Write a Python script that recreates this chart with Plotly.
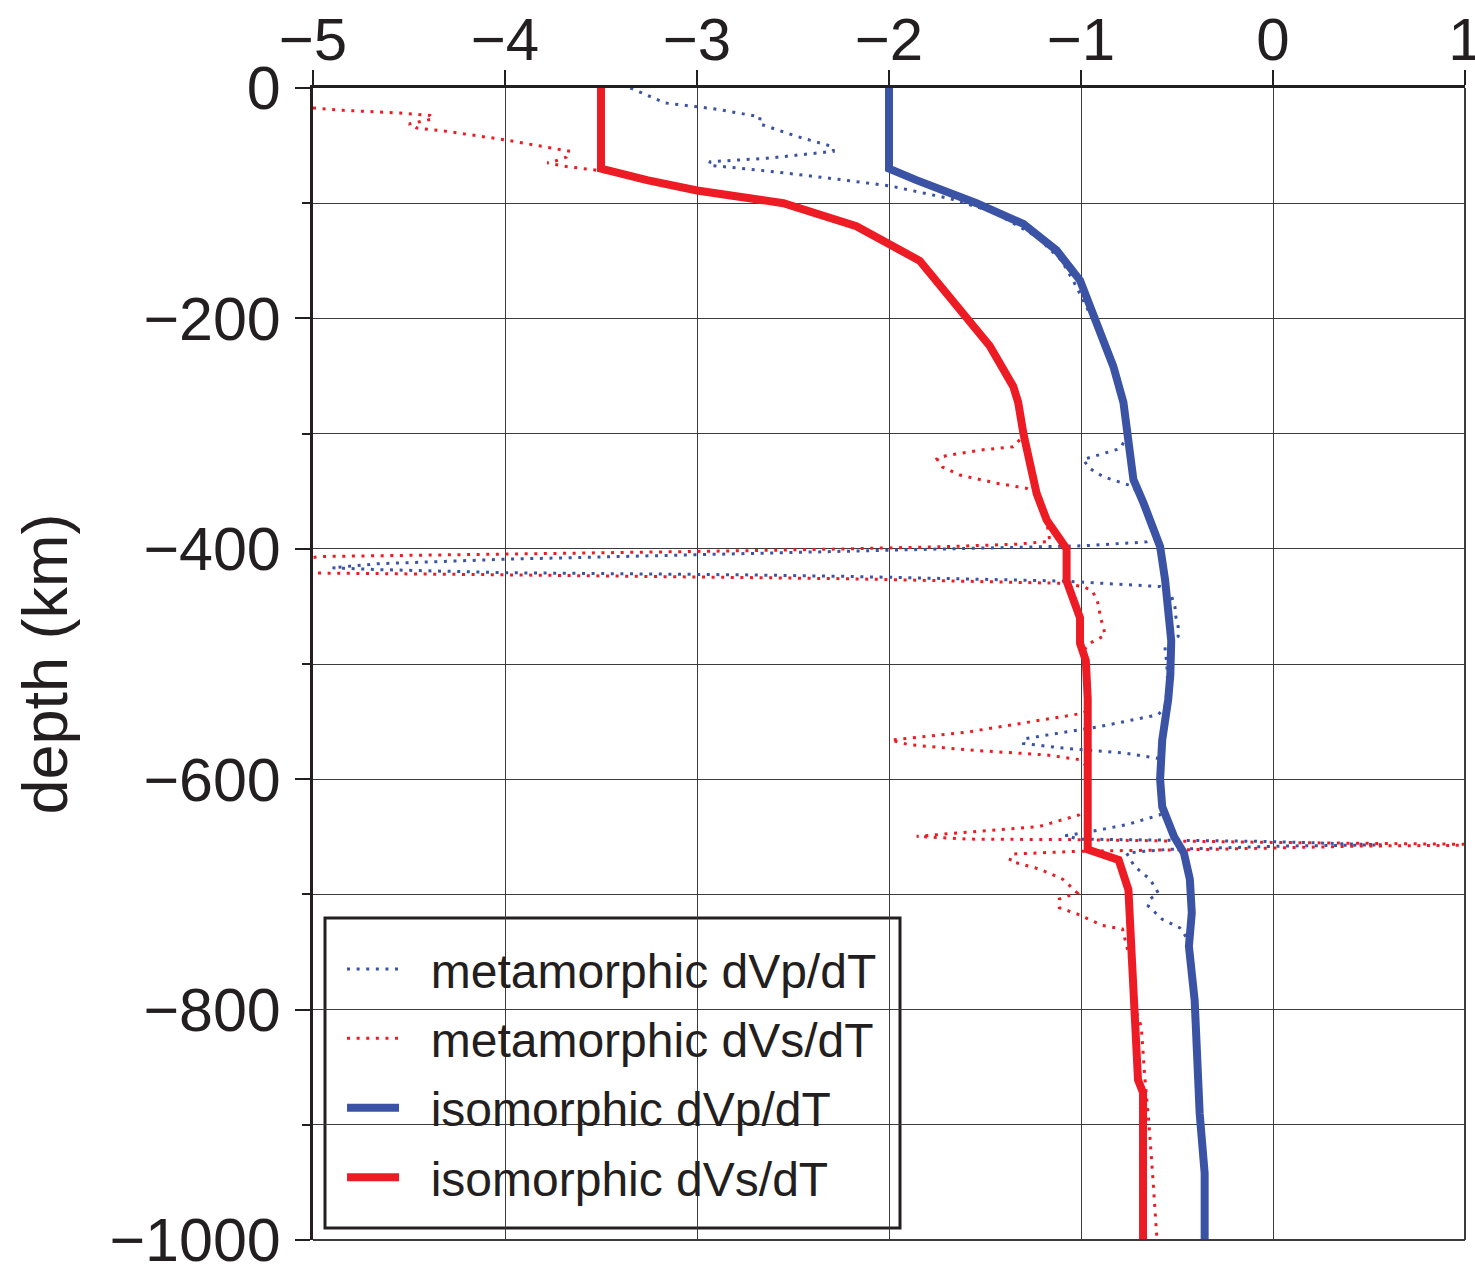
import plotly.graph_objects as go

# Temperature derivatives of seismic velocity versus depth

# isomorphic dVs/dT
iso_vs_dvdt = [-3.5, -3.5, -3.26, -3.0, -2.55, -2.17, -1.84, -1.60, -1.475, -1.353, -1.327,
               -1.30, -1.266, -1.231, -1.179, -1.092, -1.075, -1.075, -1.049, -1.005, -1.005,
               -0.975, -0.965, -0.965, -0.965, -0.804, -0.753, -0.735, -0.72, -0.703, -0.677, -0.677]
iso_vs_depth = [0, -70, -80, -89, -100, -120, -150, -199, -224, -259, -273,
                -300, -329, -352, -375, -395, -400, -428, -441, -460, -482,
                -497, -530, -600, -661, -670, -696, -756, -800, -861, -872, -1000]

# isomorphic dVp/dT
iso_vp_dvdt = [-2.0, -2.0, -1.857, -1.544, -1.30, -1.127, -1.005, -0.918, -0.831, -0.779, -0.762,
               -0.744, -0.727, -0.675, -0.641, -0.588, -0.562, -0.54, -0.53, -0.535, -0.546,
               -0.577, -0.588, -0.577, -0.515, -0.464, -0.433, -0.423, -0.438, -0.408, -0.382,
               -0.356, -0.356]
iso_vp_depth = [0, -70, -80, -100, -118, -141, -167, -204, -242, -273, -300,
                -314, -340, -360, -375, -398, -427, -456, -480, -510, -531,
                -566, -600, -624, -650, -664, -687, -716, -745, -792, -890,
                -942, -1000]

# metamorphic dVp/dT
meta_vp_dvdt = [-3.347, -3.165, -2.913, -2.671, -2.676, -2.48, -2.29, -2.29, -2.636, -2.931,
                -2.939, -2.636, -2.324, -1.995, -1.683, -1.45, -1.231, -1.10, -1.022, -0.93,
                -0.84, -0.775, -0.75, -0.797, -0.988, -0.957, -0.883, -0.779, -0.727, -0.675,
                -0.625, -0.595, -0.657, -0.988, -1.683, -2.205, -2.757, -3.99, -4.667, -4.90,
                -4.667, -3.99, -2.757, -2.205, -1.092, -0.589, -0.537, -0.511, -0.506, -0.494,
                -0.494, -0.563, -0.553, -0.545, -0.575, -0.598, -0.907, -1.113, -1.30, -1.30,
                -1.093, -0.763, -0.598, -0.585, -0.575, -0.588, -0.763, -0.99, -1.082, -1.01,
                -0.041, 0.567, 0.062, -0.557, -0.763, -0.722, -0.64, -0.598, -0.64, -0.65,
                -0.577, -0.485, -0.44, -0.405, -0.378, -0.352, -0.352]
meta_vp_depth = [0, -13, -18, -25, -31, -42, -51, -55, -61, -64,
                 -67, -72, -78, -85, -96, -108, -129, -150, -173, -204,
                 -242, -271, -300, -313, -322.5, -330, -337.5, -343, -346, -362,
                 -380, -390, -394, -397.4, -400, -402, -404.6, -409, -413, -416.5,
                 -418, -420.8, -422.6, -424, -428, -432.8, -437, -450, -459, -467.5,
                 -476, -485, -500, -531, -540, -544, -554.5, -560, -565, -569,
                 -573, -577.5, -582, -600, -620, -631, -639.5, -646.7, -649, -652,
                 -654, -657, -658, -661, -664, -675.5, -687, -698.6, -704, -710,
                 -721.6, -729, -740, -792, -890, -942, -1000]

# metamorphic dVs/dT
meta_vs_dvdt = [-5.05, -4.993, -4.84, -4.545, -4.39, -4.375, -4.42, -4.50, -4.458, -4.30,
                -4.0, -3.712, -3.66, -3.68, -3.73, -3.78, -3.69, -3.54, -3.26, -3.0,
                -2.55, -2.17, -1.84, -1.60, -1.475, -1.353, -1.32, -1.29, -1.353, -1.51,
                -1.70, -1.75, -1.722, -1.631, -1.44, -1.283, -1.23, -1.18, -1.162, -1.336,
                -1.683, -2.205, -2.757, -3.99, -4.96, -5.3, -5.0, -3.99, -2.74, -2.205,
                -1.092, -0.988, -0.945, -0.919, -0.905, -0.901, -0.884, -0.875, -0.919, -0.962,
                -0.99, -0.97, -0.955, -0.96, -1.0, -1.299, -1.588, -1.99, -1.897, -1.588,
                -1.175, -1.01, -0.96, -0.96, -1.01, -1.216, -1.526, -1.856, -1.588, -1.01,
                -0.041, 0.99, 1.3, 0.474, -0.35, -1.01, -1.36, -1.371, -1.216, -1.093,
                -1.02, -1.113, -1.113, -1.02, -0.887, -0.784, -0.74, -0.715, -0.686, -0.668,
                -0.646, -0.625, -0.604]
meta_vs_depth = [-17, -17.4, -19.4, -21.7, -23.8, -26.7, -28.4, -31.3, -34.8, -37.7,
                 -45, -53, -55, -60, -63, -65, -68, -71, -79, -88,
                 -99, -119, -149, -198, -223, -258, -275, -300, -311.5, -314,
                 -319, -322, -329, -336, -343, -347.5, -352, -375, -393.7, -396,
                 -398, -400, -401.7, -404.6, -406.7, -414, -421, -422.6, -425, -426,
                 -430, -432.8, -436, -443, -451.6, -459, -467, -475, -479, -482.6,
                 -490, -500, -530, -540, -543, -551, -559, -566, -570, -574.6,
                 -579, -583, -590, -625, -631, -641, -645, -649.6, -652, -652.5,
                 -654.8, -656, -657, -658, -661, -662.5, -665, -671, -678, -687,
                 -698.6, -704, -711.5, -717, -727, -730, -760, -800, -815, -858,
                 -899, -948, -1000]

# axis ticks
x_ticks = [-5, -4, -3, -2, -1, 0, 1]
x_tick_labels = ["\u22125", "\u22124", "\u22123", "\u22122", "\u22121", "0", "1"]
y_ticks = [0, -200, -400, -600, -800, -1000]
y_tick_labels = ["0", "\u2212200", "\u2212400", "\u2212600", "\u2212800", "\u22121000"]
y_minor_ticks = [-100, -300, -500, -700, -900]

BLUE = "#3A53A4"
RED = "#ED1C24"
INK = "#231F20"
GRID = "#3C3C3C"
FONT = "Liberation Sans, Arial, Helvetica, sans-serif"
DOT = "3px,6.6px"
PAD = "\u00a0\u00a0"  # gap between legend sample and label

fig = go.Figure()
fig.add_trace(go.Scatter(x=meta_vp_dvdt, y=meta_vp_depth, mode="lines",
                         name=PAD + "metamorphic dVp/dT", legendgroup="a",
                         line=dict(color=BLUE, width=3, dash=DOT)))
fig.add_trace(go.Scatter(x=meta_vs_dvdt, y=meta_vs_depth, mode="lines",
                         name=PAD + "metamorphic dVs/dT", legendgroup="b",
                         line=dict(color=RED, width=3, dash=DOT)))
fig.add_trace(go.Scatter(x=iso_vp_dvdt, y=iso_vp_depth, mode="lines",
                         name=PAD + "isomorphic dVp/dT", legendgroup="c",
                         line=dict(color=BLUE, width=8)))
fig.add_trace(go.Scatter(x=iso_vs_dvdt, y=iso_vs_depth, mode="lines",
                         name=PAD + "isomorphic dVs/dT", legendgroup="d",
                         line=dict(color=RED, width=8)))

fig.update_layout(
    width=1475, height=1268,
    margin=dict(l=313, r=10, t=88, b=28, pad=0),
    paper_bgcolor="white", plot_bgcolor="white",
    font=dict(family=FONT, color=INK),
    showlegend=True,
    legend=dict(
        x=0.0252, y=0.268, xanchor="left", yanchor="top",
        bgcolor="rgba(0,0,0,0)", borderwidth=0,
        font=dict(size=48, family=FONT, color=INK),
        itemwidth=52, tracegroupgap=4,
    ),
    shapes=[
        # legend frame
        dict(type="rect", xref="paper", yref="paper", layer="below",
             x0=12 / 1152, x1=587 / 1152, y0=12 / 1152, y1=322 / 1152,
             fillcolor="white", line=dict(color=INK, width=3)),
        # right and bottom frame edges
        dict(type="line", xref="paper", yref="paper", x0=1, x1=1, y0=0, y1=1,
             line=dict(color=GRID, width=2)),
        dict(type="line", xref="paper", yref="paper", x0=0, x1=1, y0=0, y1=0,
             line=dict(color=GRID, width=2)),
    ],
)

fig.update_xaxes(
    range=[-5, 1], side="top", automargin=False,
    tickmode="array", tickvals=x_ticks, ticktext=x_tick_labels,
    ticks="outside", ticklen=15, tickwidth=1.5, tickcolor=INK,
    tickfont=dict(size=60, family=FONT, color=INK),
    ticklabeloverflow="allow", ticklabelstandoff=-14,
    showgrid=True, gridcolor=GRID, gridwidth=1.2,
    showline=True, linecolor=INK, linewidth=3, zeroline=False,
)
fig.update_yaxes(
    range=[-1000, 0], automargin=False,
    tickmode="array", tickvals=y_ticks, ticktext=y_tick_labels,
    ticks="outside", ticklen=15, tickwidth=1.5, tickcolor=INK,
    tickfont=dict(size=61, family=FONT, color=INK),
    ticklabeloverflow="allow", ticklabelstandoff=2,
    minor=dict(tickmode="array", tickvals=y_minor_ticks, ticks="outside",
               ticklen=8, tickwidth=1.5, tickcolor=INK,
               showgrid=True, gridcolor=GRID, gridwidth=1.2),
    showgrid=True, gridcolor=GRID, gridwidth=1.2,
    showline=True, linecolor=INK, linewidth=3, zeroline=False,
    title=dict(text="depth (km)", font=dict(size=63, family=FONT, color=INK), standoff=22),
)

fig.write_html("out.html")
